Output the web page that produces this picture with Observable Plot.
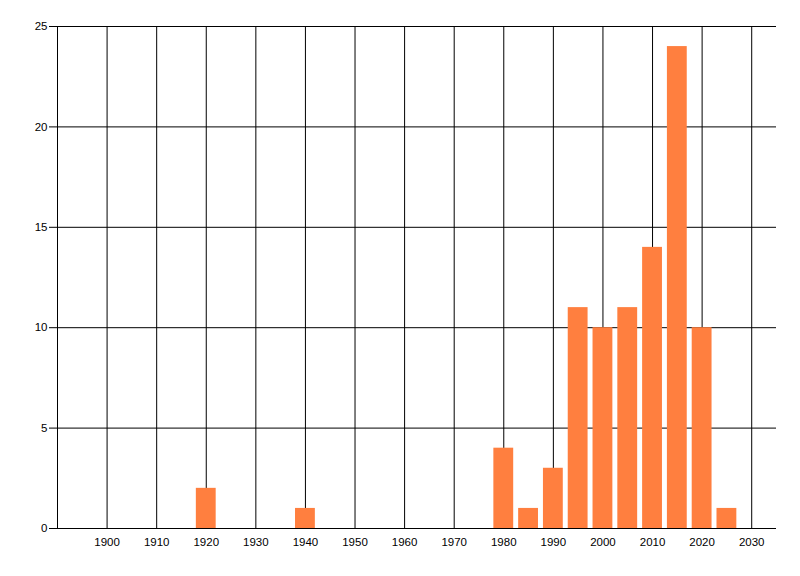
<!DOCTYPE html>
<html>
<head>
<meta charset="utf-8">
<script src="https://cdn.jsdelivr.net/npm/d3@7"></script>
<script src="https://cdn.jsdelivr.net/npm/@observablehq/plot@0.6"></script>
<style>
  body { margin: 0; background: #fff; }
</style>
</head>
<body>
<div id="chart"></div>
<script>
const years  = [1920, 1940, 1980, 1985, 1990, 1995, 2000, 2005, 2010, 2015, 2020, 2025];
const counts = [2, 1, 4, 1, 3, 11, 10, 11, 14, 24, 10, 1];
const xTicks = d3.range(1900, 2031, 10);
const yTicks = [0, 5, 10, 15, 20, 25];

const data = years.map((y, i) => ({year: y, count: counts[i]}));
const half = 2; // bars span 4 years

const chart = Plot.plot({
  width: 800,
  height: 576,
  marginLeft: 57,
  marginRight: 24,
  marginTop: 26,
  marginBottom: 48,
  style: {fontFamily: "'Liberation Sans', Arial, sans-serif", fontSize: "11.5px", color: "#000", background: "#fff"},
  x: {domain: [1890, 2035]},
  y: {domain: [0, 25]},
  marks: [
    // grid
    Plot.ruleX(xTicks, {stroke: "#000"}),
    Plot.ruleY(yTicks.filter(d => d > 0), {stroke: "#000"}),
    // bars
    Plot.rectY(data, {
      x1: d => d.year - half,
      x2: d => d.year + half,
      y: "count",
      fill: "#FF7F3F"
    }),
    // axis lines
    Plot.ruleX([1890], {stroke: "#000"}),
    Plot.ruleY([0], {stroke: "#000"}),
    Plot.axisY({ticks: yTicks, tickSize: 8, tickPadding: 2, label: null, stroke: "#000", fill: "#000", strokeOpacity: 1}),
    Plot.axisX({ticks: xTicks, tickSize: 0, tickPadding: 9, tickFormat: d => String(d), label: null, fill: "#000"})
  ]
});

document.getElementById("chart").append(chart);
</script>
</body>
</html>
